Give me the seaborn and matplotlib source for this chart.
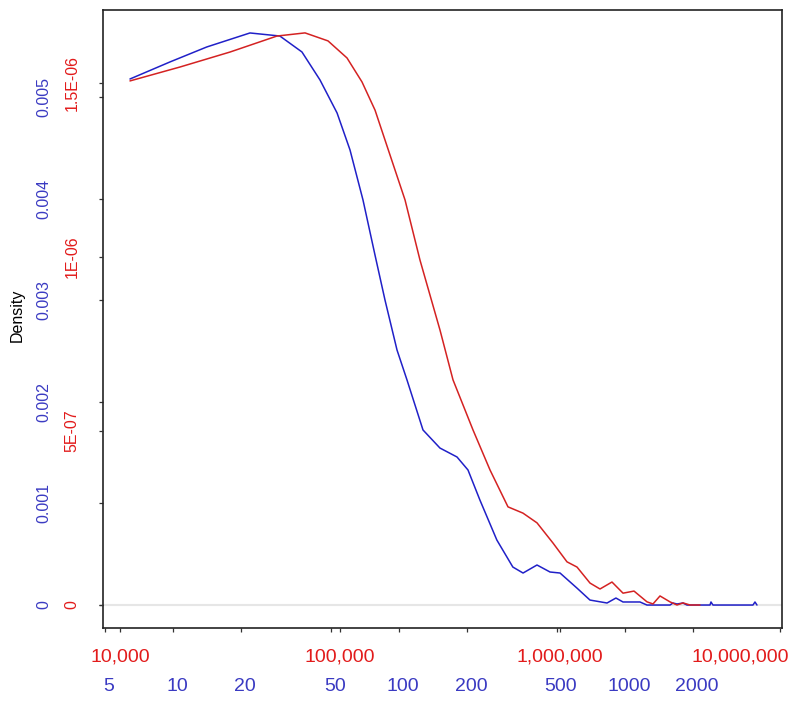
import pandas as pd
import matplotlib
matplotlib.use("Agg")
import matplotlib.pyplot as plt
from matplotlib.ticker import NullLocator
from matplotlib.transforms import ScaledTranslation
import seaborn as sns

sns.set_style("white")
plt.rcParams['font.family'] = ['Liberation Sans', 'DejaVu Sans']

# blue series (lower x scale, left density scale)
blue_x = [6.45, 9.7, 14.1, 21.9, 29.7, 37.2, 44.7, 53.2, 60.7, 69.3, 78.3, 86.7, 98.0,
          108.5, 127.7, 151.8, 180.6, 202, 228, 271, 319, 354, 408, 466, 516, 613, 700,
          833, 912, 980, 1165, 1251, 1582, 1631, 1699, 1805, 1881, 2378, 2402, 2451,
          3684, 3761, 3838]
blue_y = [0.005177, 0.005345, 0.005492, 0.00563, 0.0056, 0.005443, 0.005168, 0.004843,
          0.004479, 0.003986, 0.003445, 0.003002, 0.00251, 0.002215, 0.001723, 0.001545,
          0.001457, 0.001329, 0.001034, 0.00064, 0.000374, 0.000315, 0.000394, 0.000325,
          0.000315, 0.000167, 0.000049, 0.00002, 0.000069, 0.00003, 0.00003, 0.0, 0.0,
          0.00002, 0.00001, 0.00002, 0.0, 0.0, 0.00003, 0.0, 0.0, 0.00003, 0.0]

# red series (upper x scale, right density scale)
red_x = [11100, 18740, 31620, 51700, 69340, 88200, 107600, 125900, 144300, 168800,
         197500, 231000, 284800, 326300, 402300, 480700, 580200, 678700, 786200,
         929400, 1076000, 1195000, 1369000, 1520000, 1723000, 1934000, 2170000,
         2486000, 2647000, 2848000, 3162000, 3402000, 3624000, 3898000, 4329000]
red_y = [1.506e-6, 1.546e-6, 1.589e-6, 1.635e-6, 1.644e-6, 1.621e-6, 1.572e-6, 1.503e-6,
         1.422e-6, 1.293e-6, 1.164e-6, 0.991e-6, 0.790e-6, 0.647e-6, 0.503e-6, 0.388e-6,
         0.282e-6, 0.264e-6, 0.236e-6, 0.178e-6, 0.124e-6, 0.109e-6, 0.063e-6, 0.046e-6,
         0.066e-6, 0.034e-6, 0.040e-6, 0.009e-6, 0.003e-6, 0.026e-6, 0.009e-6, 0.0,
         0.006e-6, 0.0, 0.0]

blue_xticks = [5, 10, 20, 50, 100, 200, 500, 1000, 2000]
blue_xlabels = ["5", "10", "20", "50", "100", "200", "500", "1000", "2000"]
red_xticks = [1e4, 1e5, 1e6, 1e7]
red_xlabels = ["10,000", "100,000", "1,000,000", "10,000,000"]
blue_yticks = [0, 0.001, 0.002, 0.003, 0.004, 0.005]
blue_ylabels = ["0", "0.001", "0.002", "0.003", "0.004", "0.005"]
red_yticks = [0, 5e-7, 1e-6, 1.5e-6]
red_ylabels = ["0", "5E-07", "1E-06", "1.5E-06"]

BLUE_LINE = "#2020C8"
RED_LINE = "#D42222"
BLUE_TXT = "#3A3AC2"
RED_TXT = "#E21B1B"

df_blue = pd.DataFrame({"x": blue_x, "y": blue_y})
df_red = pd.DataFrame({"x": red_x, "y": red_y})

fig = plt.figure(figsize=(8, 7.01), dpi=100)
rect = [103 / 800, 1 - 628 / 701, 679 / 800, 618 / 701]
ax = fig.add_axes(rect, label="blue")
ax2 = fig.add_axes(rect, label="red")
ax2.patch.set_visible(False)

ax.axhline(0, color="#e6e6e6", lw=1.5, zorder=0)
sns.lineplot(data=df_blue, x="x", y="y", ax=ax, color=BLUE_LINE, lw=1.1, estimator=None)
sns.lineplot(data=df_red, x="x", y="y", ax=ax2, color=RED_LINE, lw=1.1, estimator=None)

ax.set_xscale("log")
ax2.set_xscale("log")
ax.set_xlim(4.90, 4953)
ax.set_ylim(-0.000226, 0.005856)
ax2.set_xlim(8369, 1.0212e7)
ax2.set_ylim(-6.61e-8, 1.7098e-6)

for a in (ax, ax2):
    a.xaxis.set_minor_locator(NullLocator())
    a.set_xlabel("")
    a.set_ylabel("")

ax.set_xticks(blue_xticks, blue_xlabels)
ax.set_yticks(blue_yticks, blue_ylabels, rotation=90, va="center")
ax2.set_xticks(red_xticks, red_xlabels)
ax2.set_yticks(red_yticks, red_ylabels, rotation=90, va="center")

tick_kw = dict(length=3, width=0.9, color="#333333", direction="out", bottom=True, left=True)
ax.tick_params(axis="x", labelcolor=BLUE_TXT, labelsize=14, pad=33, **tick_kw)
ax.tick_params(axis="y", labelcolor=BLUE_TXT, labelsize=11.5, pad=34, **tick_kw)
ax2.tick_params(axis="x", labelcolor=RED_TXT, labelsize=14, pad=12, **tick_kw)
ax2.tick_params(axis="y", labelcolor=RED_TXT, labelsize=11.5, pad=14, **tick_kw)

# small nudges so the labels sit where the reference puts them
for lab in ax.get_xticklabels():
    lab.set_transform(lab.get_transform() + ScaledTranslation(4 / 100, 0, fig.dpi_scale_trans))
last = ax2.get_xticklabels()[-1]
last.set_transform(last.get_transform() + ScaledTranslation(-40 / 100, 0, fig.dpi_scale_trans))

for s in ax.spines.values():
    s.set_visible(True)
    s.set_color("#222222")
    s.set_linewidth(1.2)
for s in ax2.spines.values():
    s.set_visible(False)

fig.text(17 / 800, 1 - 315 / 701, "Density", rotation=90, ha="center", va="center",
         fontsize=11.5, color="black")

fig.savefig("out.png", dpi=100)
